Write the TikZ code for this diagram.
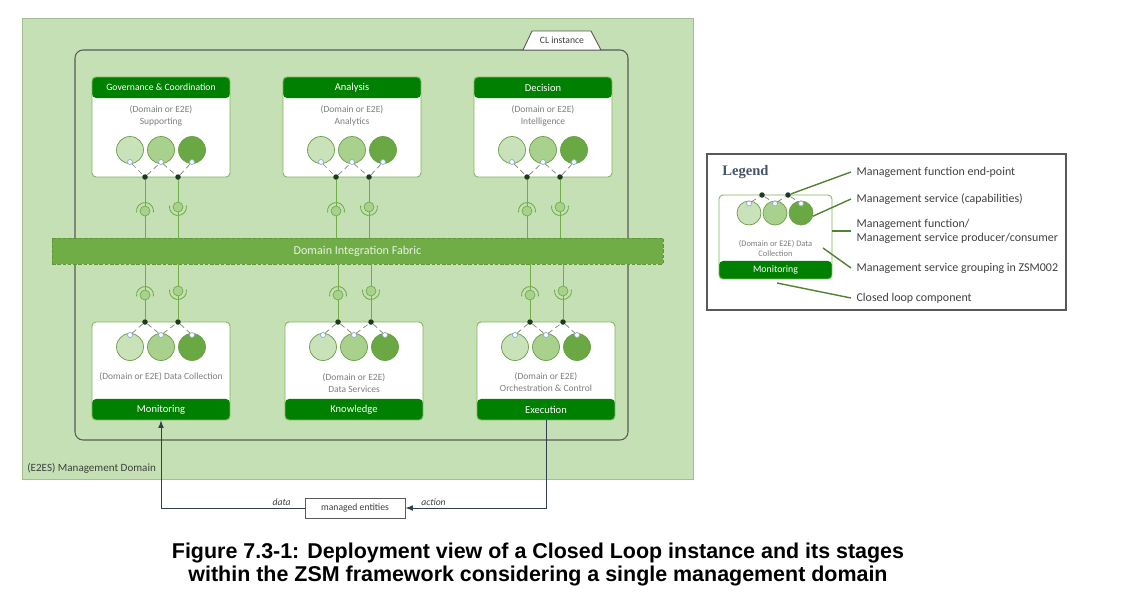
\documentclass[tikz,border=0pt]{standalone}
\usepackage{fontspec}
\setmainfont{Carlito}
\newfontfamily\arialfont{Liberation Sans}
\newfontfamily\timesfont{Liberation Serif}
\usepackage{tikz}
\usetikzlibrary{arrows}

\definecolor{areagreen}{HTML}{C5E0B4}
\definecolor{arealine}{HTML}{A3BE8F}
\definecolor{hdgreen}{RGB}{0,128,0}
\definecolor{fabgreen}{HTML}{70AD47}
\definecolor{fabline}{HTML}{5F963C}
\definecolor{fabtext}{HTML}{E8F2E0}
\definecolor{boxline}{HTML}{7DB65A}
\definecolor{svclight}{HTML}{C9E2B9}
\definecolor{svcmid}{HTML}{A9D18E}
\definecolor{svcdark}{HTML}{6AA843}
\definecolor{svcline}{HTML}{6A9F48}
\definecolor{epline}{HTML}{8FA9D8}
\definecolor{dotgreen}{HTML}{1E3B22}
\definecolor{clgray}{HTML}{595959}
\definecolor{flownavy}{HTML}{333F50}
\definecolor{textgray}{HTML}{7F7F7F}
\definecolor{darktext}{HTML}{404040}
\definecolor{legblue}{HTML}{44546A}
\definecolor{pointgreen}{HTML}{548235}

\begin{document}
\begin{tikzpicture}[x=0.02cm, y=-0.02cm,
    mgmtarea/.style={fill=areagreen, draw=arealine, line width=0.5pt},
    areatext/.style={anchor=west, inner sep=0pt, text=darktext, font=\fontsize{6.3}{7.5}\selectfont},
    clline/.style={draw=clgray, line width=0.6pt, rounded corners=1.6mm},
    cltab/.style={fill=white, draw=clgray, line width=0.5pt},
    tabtext/.style={inner sep=0pt, text=darktext, font=\fontsize{5.5}{6.6}\selectfont},
    fabric/.style={fill=fabgreen, draw=fabline, dash pattern=on 2pt off 1pt, line width=0.4pt, minimum width=12.22cm, minimum height=0.52cm, text=fabtext, font=\fontsize{6.9}{8}\selectfont},
    cbox/.style={draw=boxline, line width=0.5pt, fill=white, rounded corners=0.8mm, minimum width=2.76cm, inner sep=0pt},
    tophead/.style={path picture={\fill[hdgreen] (path picture bounding box.north west) rectangle ([yshift=-#1]path picture bounding box.north east);}},
    tophead/.default=0.42cm,
    bothead/.style={path picture={\fill[hdgreen] ([yshift=#1]path picture bounding box.south west) rectangle (path picture bounding box.south east);}},
    bothead/.default=0.42cm,
    hdtext/.style={text=white, inner sep=0pt, font=\fontsize{6}{7}\selectfont},
    subtext/.style={text=textgray, align=center, inner sep=0pt, font=\fontsize{5.4}{6.8}\selectfont},
    svc/.style={circle, draw=svcline, line width=0.4pt, minimum size=5.4mm, inner sep=0pt},
    ep/.style={circle, draw=epline, fill=white, line width=0.4pt, minimum size=1mm, inner sep=0pt},
    epdot/.style={circle, fill=dotgreen, minimum size=1.1mm, inner sep=0pt},
    ms/.style={densely dashed, draw=textgray, line width=0.4pt},
    link/.style={draw=fabgreen, line width=0.5pt},
    ball/.style={fill=svcmid, draw=fabgreen, line width=0.4pt},
    socket/.style={draw=fabgreen, line width=0.5pt},
    mebox/.style={draw=clgray, fill=white, line width=0.5pt, minimum width=2cm, minimum height=0.4cm, inner sep=0pt, text=darktext, font=\fontsize{5.5}{6.6}\selectfont},
    flow/.style={draw=flownavy, line width=0.5pt, -latex},
    flowlabel/.style={inner sep=1pt, text=darktext, font=\itshape\fontsize{5.5}{6.6}\selectfont},
    legbox/.style={draw=clgray, line width=0.8pt, minimum width=7.18cm, minimum height=3.12cm, inner sep=0pt},
    legtitle/.style={anchor=west, inner sep=0pt, text=legblue, font=\timesfont\bfseries\fontsize{8.3}{10}\selectfont},
    legtext/.style={anchor=west, inner sep=3pt, align=left, text=darktext, font=\fontsize{6.8}{8}\selectfont},
    pointer/.style={draw=pointgreen, line width=0.8pt},
    figcaption/.style={align=center, inner sep=0pt, font=\arialfont\bfseries\fontsize{12.2}{13.1}\selectfont}]

  \useasboundingbox[fill=white] (0,0) rectangle (1123,605);

  \filldraw[mgmtarea] (22,18) rectangle (693,479);
  \node[areatext] (area) at (27,468) {(E2ES) Management Domain};
  \draw[clline] (75,50) rectangle (628,440);
  \filldraw[cltab] (523,50) -- (532,31) -- (591,31) -- (601,50) -- cycle;
  \node[tabtext] (cl) at (562,40) {CL instance};
  \node[fabric] (fab) at (357.5,251) {Domain Integration Fabric};

  \begin{scope}[shift={(92,77)}]
    \node[cbox, minimum height=2cm, tophead] (gov) at (69,50) {};
    \node[hdtext, font=\fontsize{5.5}{6.6}\selectfont] (gov-h) at (69,10.5) {Governance \& Coordination};
    \node[subtext] (gov-t) at (69,39) {(Domain or E2E)\\Supporting};
    \node[svc, fill=svclight] (gov-1) at (38,73) {};
    \node[svc, fill=svcmid] (gov-2) at (69,73) {};
    \node[svc, fill=svcdark] (gov-3) at (100,73) {};
    \node[ep] (gov-e1) at (38,85) {};
    \node[ep] (gov-e2) at (69,85) {};
    \node[ep] (gov-e3) at (100,85) {};
    \node[epdot] (gov-d1) at (53,100) {};
    \node[epdot] (gov-d2) at (86,100) {};
    \draw[ms] (gov-e1) -- (gov-d1) -- (gov-e2) -- (gov-d2) -- (gov-e3);
  \end{scope}
  \begin{scope}[shift={(283,77)}]
    \node[cbox, minimum height=2cm, tophead] (ana) at (69,50) {};
    \node[hdtext] (ana-h) at (69,10.5) {Analysis};
    \node[subtext] (ana-t) at (69,39) {(Domain or E2E)\\Analytics};
    \node[svc, fill=svclight] (ana-1) at (38,73) {};
    \node[svc, fill=svcmid] (ana-2) at (69,73) {};
    \node[svc, fill=svcdark] (ana-3) at (100,73) {};
    \node[ep] (ana-e1) at (38,85) {};
    \node[ep] (ana-e2) at (69,85) {};
    \node[ep] (ana-e3) at (100,85) {};
    \node[epdot] (ana-d1) at (53,100) {};
    \node[epdot] (ana-d2) at (86,100) {};
    \draw[ms] (ana-e1) -- (ana-d1) -- (ana-e2) -- (ana-d2) -- (ana-e3);
  \end{scope}
  \begin{scope}[shift={(474,77)}]
    \node[cbox, minimum height=2cm, tophead] (dec) at (69,50) {};
    \node[hdtext] (dec-h) at (69,10.5) {Decision};
    \node[subtext] (dec-t) at (69,39) {(Domain or E2E)\\Intelligence};
    \node[svc, fill=svclight] (dec-1) at (38,73) {};
    \node[svc, fill=svcmid] (dec-2) at (69,73) {};
    \node[svc, fill=svcdark] (dec-3) at (100,73) {};
    \node[ep] (dec-e1) at (38,85) {};
    \node[ep] (dec-e2) at (69,85) {};
    \node[ep] (dec-e3) at (100,85) {};
    \node[epdot] (dec-d1) at (53,100) {};
    \node[epdot] (dec-d2) at (86,100) {};
    \draw[ms] (dec-e1) -- (dec-d1) -- (dec-e2) -- (dec-d2) -- (dec-e3);
  \end{scope}

  \begin{scope}[shift={(92,322)}]
    \node[cbox, minimum height=1.96cm, bothead] (mon) at (69,49) {};
    \node[hdtext] (mon-h) at (69,87.5) {Monitoring};
    \node[subtext] (mon-t) at (69,55) {(Domain or E2E) Data Collection};
    \node[svc, fill=svclight] (mon-1) at (38,25) {};
    \node[svc, fill=svcmid] (mon-2) at (69,25) {};
    \node[svc, fill=svcdark] (mon-3) at (100,25) {};
    \node[ep] (mon-e1) at (38,13) {};
    \node[ep] (mon-e2) at (69,13) {};
    \node[ep] (mon-e3) at (100,13) {};
    \node[epdot] (mon-d1) at (53,0) {};
    \node[epdot] (mon-d2) at (86,0) {};
    \draw[ms] (mon-e1) -- (mon-d1) -- (mon-e2) -- (mon-d2) -- (mon-e3);
  \end{scope}
  \begin{scope}[shift={(285,322)}]
    \node[cbox, minimum height=1.96cm, bothead] (kno) at (69,49) {};
    \node[hdtext] (kno-h) at (69,87.5) {Knowledge};
    \node[subtext] (kno-t) at (69,61) {(Domain or E2E)\\Data Services};
    \node[svc, fill=svclight] (kno-1) at (38,25) {};
    \node[svc, fill=svcmid] (kno-2) at (69,25) {};
    \node[svc, fill=svcdark] (kno-3) at (100,25) {};
    \node[ep] (kno-e1) at (38,13) {};
    \node[ep] (kno-e2) at (69,13) {};
    \node[ep] (kno-e3) at (100,13) {};
    \node[epdot] (kno-d1) at (53,0) {};
    \node[epdot] (kno-d2) at (86,0) {};
    \draw[ms] (kno-e1) -- (kno-d1) -- (kno-e2) -- (kno-d2) -- (kno-e3);
  \end{scope}
  \begin{scope}[shift={(477,322)}]
    \node[cbox, minimum height=1.96cm, bothead] (exe) at (69,49) {};
    \node[hdtext] (exe-h) at (69,87.5) {Execution};
    \node[subtext] (exe-t) at (69,60) {(Domain or E2E)\\Orchestration \& Control};
    \node[svc, fill=svclight] (exe-1) at (38,25) {};
    \node[svc, fill=svcmid] (exe-2) at (69,25) {};
    \node[svc, fill=svcdark] (exe-3) at (100,25) {};
    \node[ep] (exe-e1) at (38,13) {};
    \node[ep] (exe-e2) at (69,13) {};
    \node[ep] (exe-e3) at (100,13) {};
    \node[epdot] (exe-d1) at (53,0) {};
    \node[epdot] (exe-d2) at (86,0) {};
    \draw[ms] (exe-e1) -- (exe-d1) -- (exe-e2) -- (exe-d2) -- (exe-e3);
  \end{scope}

  \draw[link] (gov-d1) -- (gov-d1 |- fab.north);
  \draw[link] (gov-d2) -- (gov-d2 |- fab.north);
  \draw[link] (ana-d1) -- (ana-d1 |- fab.north);
  \draw[link] (ana-d2) -- (ana-d2 |- fab.north);
  \draw[link] (dec-d1) -- (dec-d1 |- fab.north);
  \draw[link] (dec-d2) -- (dec-d2 |- fab.north);
  \draw[link] (mon-d1 |- fab.south) -- (mon-d1);
  \draw[link] (mon-d2 |- fab.south) -- (mon-d2);
  \draw[link] (kno-d1 |- fab.south) -- (kno-d1);
  \draw[link] (kno-d2 |- fab.south) -- (kno-d2);
  \draw[link] (exe-d1 |- fab.south) -- (exe-d1);
  \draw[link] (exe-d2 |- fab.south) -- (exe-d2);

  \filldraw[ball] (145,211) circle [radius = 1mm];
  \draw[socket] (145,211) ++(-10:1.7mm) arc [start angle = -10, end angle = 190, radius = 1.7mm];
  \filldraw[ball] (178,207) circle [radius = 1mm];
  \draw[socket] (178,207) ++(170:1.7mm) arc [start angle = 170, end angle = 370, radius = 1.7mm];
  \filldraw[ball] (336,211) circle [radius = 1mm];
  \draw[socket] (336,211) ++(-10:1.7mm) arc [start angle = -10, end angle = 190, radius = 1.7mm];
  \filldraw[ball] (369,207) circle [radius = 1mm];
  \draw[socket] (369,207) ++(170:1.7mm) arc [start angle = 170, end angle = 370, radius = 1.7mm];
  \filldraw[ball] (527,211) circle [radius = 1mm];
  \draw[socket] (527,211) ++(-10:1.7mm) arc [start angle = -10, end angle = 190, radius = 1.7mm];
  \filldraw[ball] (560,207) circle [radius = 1mm];
  \draw[socket] (560,207) ++(170:1.7mm) arc [start angle = 170, end angle = 370, radius = 1.7mm];
  \filldraw[ball] (145,295) circle [radius = 1mm];
  \draw[socket] (145,295) ++(-10:1.7mm) arc [start angle = -10, end angle = 190, radius = 1.7mm];
  \filldraw[ball] (178,291) circle [radius = 1mm];
  \draw[socket] (178,291) ++(170:1.7mm) arc [start angle = 170, end angle = 370, radius = 1.7mm];
  \filldraw[ball] (338,295) circle [radius = 1mm];
  \draw[socket] (338,295) ++(-10:1.7mm) arc [start angle = -10, end angle = 190, radius = 1.7mm];
  \filldraw[ball] (371,291) circle [radius = 1mm];
  \draw[socket] (371,291) ++(170:1.7mm) arc [start angle = 170, end angle = 370, radius = 1.7mm];
  \filldraw[ball] (530,295) circle [radius = 1mm];
  \draw[socket] (530,295) ++(-10:1.7mm) arc [start angle = -10, end angle = 190, radius = 1.7mm];
  \filldraw[ball] (563,291) circle [radius = 1mm];
  \draw[socket] (563,291) ++(170:1.7mm) arc [start angle = 170, end angle = 370, radius = 1.7mm];

  \node[mebox] (me) at (355,508) {managed entities};
  \draw[flow] (exe.south) |- (me.east) node [pos = 0.9, above, flowlabel] {action};
  \draw[flow] (me.west) -| (mon.south) node [pos = 0.08, above, flowlabel] {data};

  \node[legbox] (legend) at (886.5,232) {};
  \node[legtitle] (leg-title) at (722,172) {Legend};
  \node[cbox, minimum width=2.26cm, minimum height=1.68cm, bothead=0.36cm] (lgbox) at (775.5,237) {};
  \node[hdtext, font=\fontsize{5.6}{6.7}\selectfont] (lgbox-h) at (775.5,270) {Monitoring};
  \node[subtext, font=\fontsize{4.8}{5.7}\selectfont] (lgbox-t) at (775.5,248) {(Domain or E2E) Data\\Collection};
  \node[svc, minimum size=4.8mm, fill=svclight] (lg-1) at (749,213) {};
  \node[svc, minimum size=4.8mm, fill=svcmid] (lg-2) at (775,213) {};
  \node[svc, minimum size=4.8mm, fill=svcdark] (lg-3) at (801,213) {};
  \node[ep] (lg-e1) at (749,203.5) {};
  \node[ep] (lg-e2) at (775,203.5) {};
  \node[ep] (lg-e3) at (801,203.5) {};
  \node[epdot] (lg-d1) at (762,195) {};
  \node[epdot] (lg-d2) at (788,195) {};
  \draw[ms] (lg-e1) -- (lg-d1) -- (lg-e2) -- (lg-d2) -- (lg-e3);

  \node[legtext] (l1) at (851,172) {Management function end-point};
  \node[legtext] (l2) at (851,199) {Management service (capabilities)};
  \node[legtext] (l3) at (851,231) {Management function/\\Management service producer/consumer};
  \node[legtext] (l4) at (851,268) {Management service grouping in ZSM002};
  \node[legtext] (l5) at (851,298) {Closed loop component};
  \coordinate (lg-g) at (823,248);
  \coordinate (lg-c) at (777,283);
  \draw[pointer] (lg-d2) -- (l1.west);
  \draw[pointer] (lg-3.-15) -- (l2.west);
  \draw[pointer] (l3.west -| lgbox.east) -- (l3.west);
  \draw[pointer] (lg-g) -- (l4.west);
  \draw[pointer] (lg-c) -- (l5.west);

  \node[figcaption] (caption) at (538,564.5) {Figure 7.3-1: Deployment view of a Closed Loop instance and its stages\\within the ZSM framework considering a single management domain};
\end{tikzpicture}
\end{document}
